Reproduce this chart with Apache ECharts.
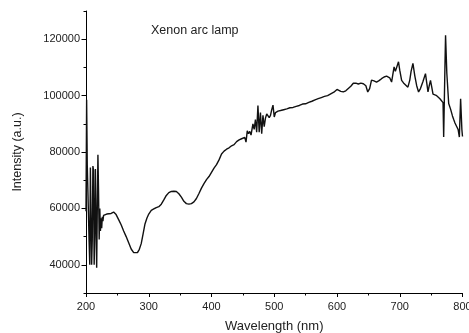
<!DOCTYPE html>
<html>
<head>
<meta charset="utf-8">
<script src="https://cdn.jsdelivr.net/npm/echarts@6/dist/echarts.min.js"></script>
<style>
html,body{margin:0;padding:0;background:#fff;overflow:hidden;}
#chart{width:469px;height:333px;}
</style>
</head>
<body>
<div id="chart"></div>
<script>
const wavelength = [
200,201,202,203,204,205,206,207,208,209,210,211,212,213,214,215,216,217,218,219,220,221,222,223,224,225,226,227,228,230,233,236,240,244,248,252,256,260,264,268,272,276,279,282,285,288,291,294,297,300,304,308,312,316,320,324,328,332,336,340,344,348,352,356,360,364,368,372,376,380,384,388,392,396,400,404,408,412,416,420,424,428,432,436,440,444,448,451,453,455,457,459,461,463,466,468,470,472,474,476,478,480,482,484,486,488,490,492,494,496,498,500,502,506,510,515,520,525,530,535,540,545,550,555,560,565,570,575,580,585,590,595,600,603,606,610,614,618,622,626,630,634,638,642,646,649,652,655,659,663,667,671,675,679,682,684,687,689,691,693,695,698,700,703,706,709,713,716,718,721,724,727,730,733,737,741,743,745,747,749,751,753,756,758,761,764,767,769,770,772,773,775,778,781,784,786,788,789,791,793,795,797,799,800
];
const intensity = [
59000,98500,75500,75000,75500,48000,40000,74500,75000,40000,49000,75000,73500,40000,50000,74000,73500,39000,60000,79000,66000,49000,60000,52000,56500,53000,57000,55500,57500,57000,58000,57800,58200,58700,57800,56000,54200,52000,50000,47800,45600,44300,44000,44300,45500,47500,51000,54500,56500,58000,59300,59800,60300,60600,61500,63000,64600,65600,66000,66100,66000,65200,64000,62500,61700,61500,61700,62300,63500,65300,67200,68800,70200,71300,72800,74300,75500,77200,79300,80300,81000,81500,82200,82600,83700,84300,84700,84000,85200,83500,87500,86500,87300,86000,90000,88000,91500,87000,96500,87000,94000,86500,93000,89000,92000,93500,94200,92200,93000,95000,96600,92400,94000,94500,94700,95000,95300,95700,95800,96200,96500,97000,97100,97600,98000,98500,98900,99300,99700,100000,100600,101200,102200,101800,101500,101300,101700,102500,103300,104400,104400,104100,104400,104200,103500,101300,102500,105500,105200,104800,105300,106000,106600,106900,107500,106300,104800,107500,110200,108600,109000,112000,109000,105400,104500,103800,103000,105500,108500,111400,107000,103500,101300,102500,105000,107800,104500,101300,103500,105400,103000,100500,100800,100100,99500,98900,98500,97500,85300,110000,121400,108000,97200,95200,92800,91500,90300,90000,91000,88000,85300,98900,88000,85500
];
const titleText = 'Xenon arc lamp';
const xName = 'Wavelength (nm)';
const yName = 'Intensity (a.u.)';

const font = "'Liberation Sans', Arial, sans-serif";
const points = wavelength.map((w, i) => [w, intensity[i]]);

const chart = echarts.init(document.getElementById('chart'), null, {renderer: 'canvas', width: 469, height: 333});
chart.setOption({
  animation: false,
  backgroundColor: '#fff',
  textStyle: {fontFamily: font},
  graphic: [{
    type: 'text', left: 151, top: 24,
    style: {text: titleText, font: '12.5px ' + font, fill: '#222'}
  }],
  grid: [
    {left: 86, width: 376.5, top: 11, height: 282, containLabel: false, outerBoundsMode: 'none'},
    {left: 86, width: 376.5, top: 39.2, height: 225.6, containLabel: false, outerBoundsMode: 'none'}
  ],
  xAxis: [{
    type: 'value', gridIndex: 0, min: 200, max: 800, interval: 100,
    axisLine: {show: true, lineStyle: {color: '#000', width: 1}},
    axisTick: {show: true, inside: false, length: 4, lineStyle: {color: '#000'}},
    minorTick: {show: true, splitNumber: 2, length: 2.5, lineStyle: {color: '#000'}},
    splitLine: {show: false},
    axisLabel: {fontSize: 11, color: '#222', margin: 8, fontFamily: font},
    name: xName, nameLocation: 'middle', nameGap: 27,
    nameTextStyle: {fontSize: 13, color: '#222', fontFamily: font}
  }, {
    type: 'value', gridIndex: 1, min: 200, max: 800, show: false
  }],
  yAxis: [{
    type: 'value', gridIndex: 0, min: 30000, max: 130000, interval: 10000,
    axisLine: {show: true, lineStyle: {color: '#000', width: 1}},
    axisTick: {show: true, inside: false, length: 2.5, lineStyle: {color: '#000'}},
    splitLine: {show: false},
    axisLabel: {show: false},
    name: yName, nameLocation: 'middle', nameGap: 62, nameRotate: 90,
    nameTextStyle: {fontSize: 12.5, color: '#222', fontFamily: font}
  }, {
    type: 'value', gridIndex: 1, min: 40000, max: 120000, interval: 20000,
    axisLine: {show: false},
    axisTick: {show: true, inside: false, length: 4.5, lineStyle: {color: '#000'}},
    splitLine: {show: false},
    axisLabel: {fontSize: 11, color: '#222', margin: 6, fontFamily: font,
      formatter: function (v) { return String(v); }}
  }],
  series: [{
    type: 'line', xAxisIndex: 0, yAxisIndex: 0,
    data: points, showSymbol: false, symbol: 'none',
    lineStyle: {color: '#111', width: 1.4},
    silent: true
  }]
});
</script>
</body>
</html>
